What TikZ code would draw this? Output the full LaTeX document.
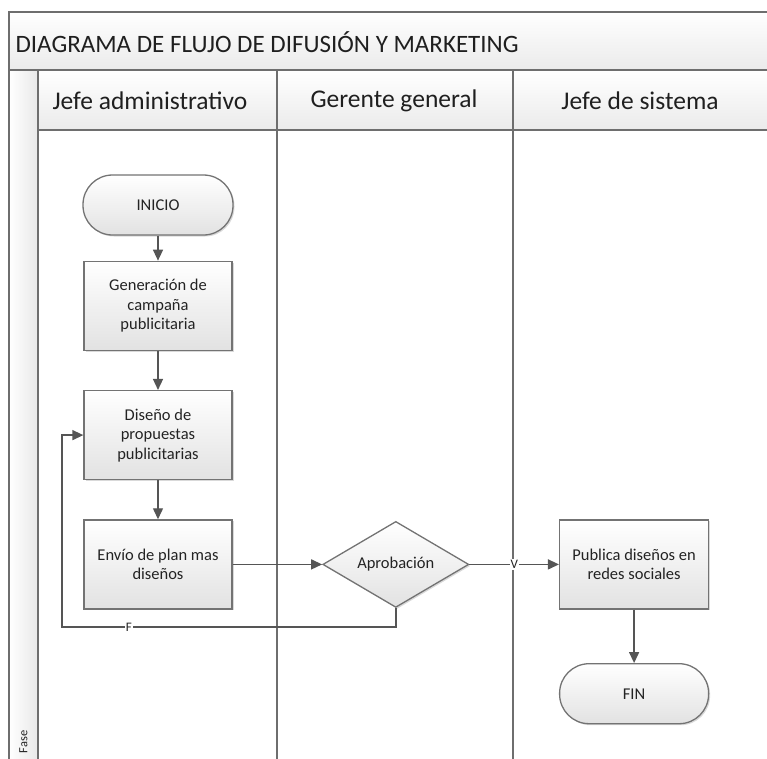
\documentclass[tikz,border=0pt]{standalone}
\usepackage{fontspec}
\setmainfont{Carlito}
\usetikzlibrary{shapes.geometric,arrows.meta,positioning,shadows}
\definecolor{borde}{RGB}{115,115,115}
\definecolor{linea}{RGB}{85,85,85}
\definecolor{carril}{RGB}{110,110,110}
\definecolor{texto}{RGB}{35,35,35}
\definecolor{fondo}{RGB}{226,226,226}

\begin{document}
\begin{tikzpicture}[x=1pt, y=-1pt, node distance=25pt, >={Triangle[length=11pt,width=10pt]},
            every node/.style={text=texto, font=\fontsize{16.5}{19.5}\selectfont},
            sombra/.style={drop shadow={shadow xshift=1.5pt, shadow yshift=-1.5pt, opacity=0.3}},
            proceso/.style={rectangle, draw=borde, line width=1.3pt, top color=white, bottom color=fondo, sombra,
                minimum width=148pt, minimum height=89pt, align=center},
            terminal/.style={proceso, rounded corners=29.5pt, minimum width=150pt, minimum height=60pt},
            decision/.style={diamond, aspect=1.7, draw=borde, line width=1.3pt, top color=white, bottom color=fondo, sombra,
                minimum width=146pt, minimum height=86pt, inner sep=0pt},
            flecha/.style={->, draw=linea, line width=1.4pt},
            etiqueta/.style={fill=white, inner sep=1pt, font=\fontsize{13}{15}\selectfont},
            cabecera/.style={font=\fontsize{25.5}{30}\selectfont, text=black!88}]

    \useasboundingbox (0,0) rectangle (767,758);
    \clip (0,0) rectangle (767,758);

    % Marco del diagrama
    \fill[top color=white, bottom color=black!8] (9,12) rectangle (780,70);
    \fill[top color=white, bottom color=black!8] (38,70) rectangle (780,130);
    \fill[left color=white, right color=black!9] (9,70) rectangle (38,770);
    \draw[carril, line width=2pt] (9,770) -- (9,12) -- (780,12);
    \draw[carril, line width=2pt] (9,70) -- (780,70);
    \draw[carril, line width=2pt] (38,130) -- (780,130);
    \foreach \x in {38,277,513}
        \draw[carril, line width=2.2pt] (\x,70) -- (\x,770);

    % Titulo y carriles
    \node[cabecera, anchor=west, font=\fontsize{25}{30}\selectfont] (titulo) at (12,42) {DIAGRAMA DE FLUJO DE DIFUSIÓN Y MARKETING};
    \node[cabecera] (jefeadm) at (150,101) {Jefe administrativo};
    \node[cabecera] (gerente) at (394,101) {Gerente general};
    \node[cabecera] (jefesis) at (640,101) {Jefe de sistema};
    \node[rotate=90, anchor=east, font=\fontsize{12.5}{14}\selectfont] (fase) at (23.5,727) {Fase};

    % Nodos del proceso
    \node[terminal] (inicio) at (158,205) {INICIO};
    \node[proceso, below=of inicio] (generacion) {Generación de\\campaña\\publicitaria};
    \node[proceso, below=39pt of generacion] (diseno) {Diseño de\\propuestas\\publicitarias};
    \node[proceso, below=39pt of diseno] (envio) {Envío de plan mas\\diseños};
    \node[decision, right=89.5pt of envio] (aprobacion) {Aprobación};
    \node[proceso, right=89.5pt of aprobacion, minimum width=149pt] (publica) {Publica diseños en\\redes sociales};
    \node[terminal, below=53.5pt of publica, minimum width=149pt] (fin) {FIN};
    \coordinate (retorno) at (62,627);

    % Flechas
    \draw[flecha] (inicio) -- (generacion);
    \draw[flecha] (generacion) -- (diseno);
    \draw[flecha] (diseno) -- (envio);
    \draw[flecha] (envio) -- (aprobacion);
    \draw[flecha] (aprobacion) -- node[etiqueta] {V} (publica);
    \draw[flecha] (aprobacion.south) |- (retorno) node[etiqueta, pos=0.9] {F} |- (diseno.west);
    \draw[flecha] (publica) -- (fin);

\end{tikzpicture}
\end{document}
